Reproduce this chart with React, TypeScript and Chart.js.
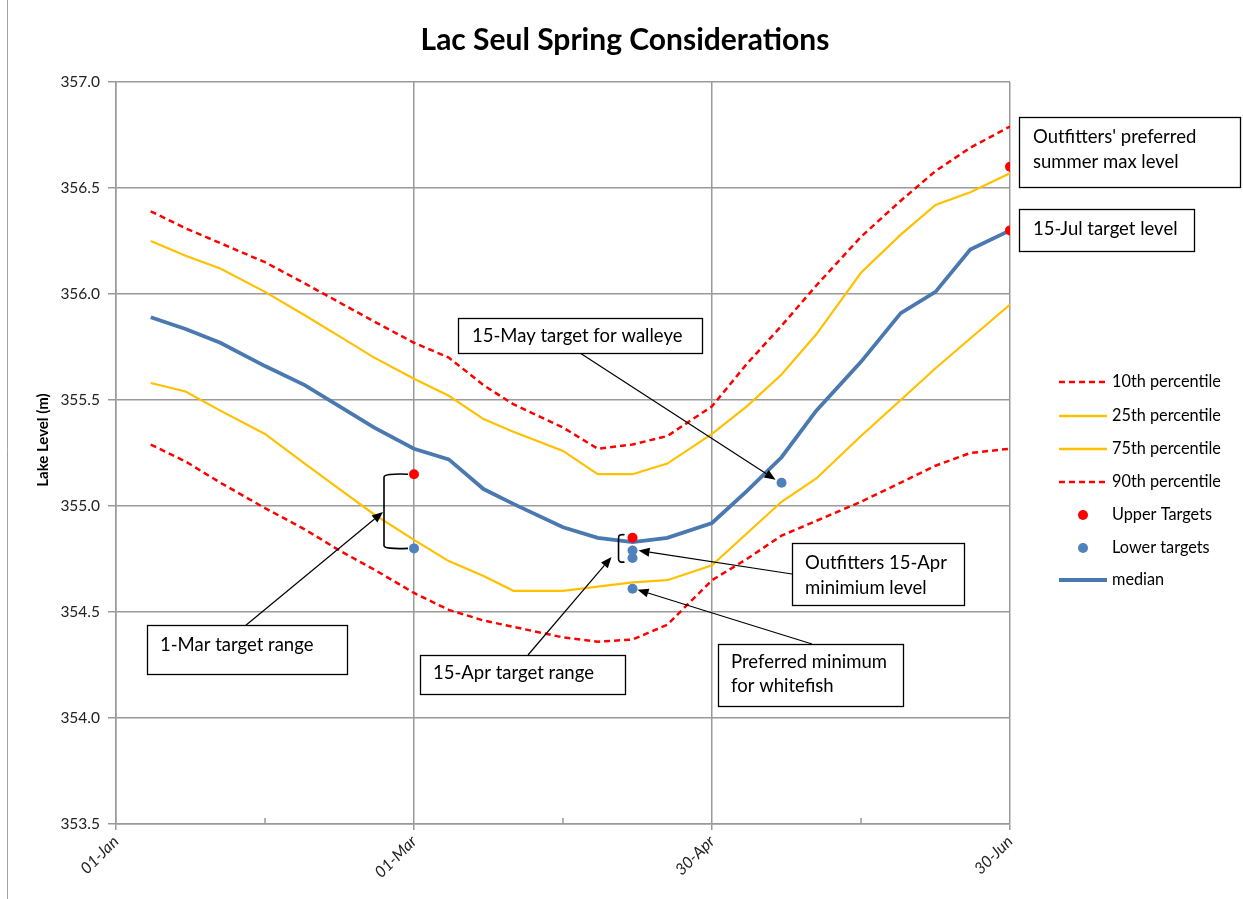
import React, { useEffect, useRef } from 'react';
import { Chart, registerables } from 'chart.js';

Chart.register(...registerables);

// Day of year (01-Jan = 0)
const days = [7, 14, 21, 30, 38, 45, 52, 60, 67, 74, 80, 90, 97, 104, 111, 120, 127, 134, 141, 150, 158, 165, 172, 180];

const p10 = [355.29, 355.21, 355.11, 354.99, 354.89, 354.79, 354.70, 354.59, 354.51, 354.46, 354.43, 354.38, 354.36, 354.37, 354.44, 354.65, 354.75, 354.86, 354.93, 355.02, 355.11, 355.19, 355.25, 355.27];
const p25 = [355.58, 355.54, 355.45, 355.34, 355.20, 355.08, 354.96, 354.84, 354.74, 354.67, 354.60, 354.60, 354.62, 354.64, 354.65, 354.72, 354.87, 355.02, 355.13, 355.33, 355.50, 355.65, 355.79, 355.95];
const p75 = [356.25, 356.18, 356.12, 356.01, 355.90, 355.80, 355.70, 355.60, 355.52, 355.41, 355.35, 355.26, 355.15, 355.15, 355.20, 355.34, 355.47, 355.62, 355.81, 356.10, 356.28, 356.42, 356.48, 356.57];
const p90 = [356.39, 356.31, 356.24, 356.15, 356.05, 355.96, 355.87, 355.77, 355.70, 355.57, 355.48, 355.37, 355.27, 355.29, 355.33, 355.47, 355.67, 355.85, 356.04, 356.27, 356.44, 356.58, 356.69, 356.79];
const median = [355.89, 355.835, 355.77, 355.66, 355.57, 355.47, 355.37, 355.27, 355.22, 355.08, 355.01, 354.90, 354.85, 354.83, 354.85, 354.92, 355.07, 355.23, 355.45, 355.68, 355.91, 356.01, 356.21, 356.30];

const upperTargetDays = [60, 104, 180, 180];
const upperTargetValues = [355.15, 354.85, 356.60, 356.30];
const lowerTargetDays = [60, 104, 104, 104, 134];
const lowerTargetValues = [354.80, 354.79, 354.755, 354.61, 355.11];

const xTickDays = [0, 60, 120, 180];
const xTickLabels = ['01-Jan', '01-Mar', '30-Apr', '30-Jun'];

const legendLabels = ['10th percentile', '25th percentile', '75th percentile', '90th percentile', 'Upper Targets', 'Lower targets', 'median'];

const title = 'Lac Seul Spring Considerations';
const yTitle = 'Lake Level (m)';

const RED = '#FF0000';
const GOLD = '#FFC000';
const BLUE = '#4A78B0';
const DOT_BLUE = '#4F81BD';
const GRID = '#9a9a9a';
const FONT = 'Lato, "Open Sans", sans-serif';

const pts = (xs: number[], ys: number[]) => xs.map((x, i) => ({ x, y: ys[i] }));

function arrow(ctx: CanvasRenderingContext2D, x1: number, y1: number, x2: number, y2: number) {
  const ang = Math.atan2(y2 - y1, x2 - x1);
  const L = 11, W = 4.5;
  const bx = x2 - L * Math.cos(ang), by = y2 - L * Math.sin(ang);
  ctx.save();
  ctx.strokeStyle = '#000';
  ctx.fillStyle = '#000';
  ctx.lineWidth = 1.2;
  ctx.beginPath();
  ctx.moveTo(x1, y1);
  ctx.lineTo(bx, by);
  ctx.stroke();
  ctx.beginPath();
  ctx.moveTo(x2, y2);
  ctx.lineTo(bx + W * Math.sin(ang), by - W * Math.cos(ang));
  ctx.lineTo(bx - W * Math.sin(ang), by + W * Math.cos(ang));
  ctx.closePath();
  ctx.fill();
  ctx.restore();
}

function box(ctx: CanvasRenderingContext2D, x1: number, y1: number, x2: number, y2: number, lines: string[], tx: number, ty: number[]) {
  ctx.save();
  ctx.fillStyle = '#fff';
  ctx.fillRect(x1, y1, x2 - x1, y2 - y1);
  ctx.strokeStyle = '#000';
  ctx.lineWidth = 1.3;
  ctx.strokeRect(x1 + 0.5, y1 + 0.5, x2 - x1, y2 - y1);
  ctx.fillStyle = '#000';
  ctx.font = `18.5px ${FONT}`;
  ctx.textAlign = 'left';
  ctx.textBaseline = 'middle';
  lines.forEach((l, i) => ctx.fillText(l, tx, ty[i]));
  ctx.restore();
}

function bracket(ctx: CanvasRenderingContext2D, x: number, top: number, bottom: number, arm: number) {
  ctx.save();
  ctx.strokeStyle = '#000';
  ctx.lineWidth = 1.6;
  ctx.beginPath();
  ctx.moveTo(x + arm, top);
  ctx.quadraticCurveTo(x, top - 1, x, top + 3);
  ctx.lineTo(x, bottom - 3);
  ctx.quadraticCurveTo(x, bottom + 1, x + arm, bottom);
  ctx.stroke();
  ctx.restore();
}

const decorPlugin = {
  id: 'decor',
  afterDraw(chart: any) {
    const ctx: CanvasRenderingContext2D = chart.ctx;
    const xs = chart.scales.x, ys = chart.scales.y;
    const area = chart.chartArea;
    const px = (d: number) => xs.getPixelForValue(d);
    const py = (v: number) => ys.getPixelForValue(v);

    // frame
    ctx.save();
    ctx.strokeStyle = '#a0a0a0';
    ctx.lineWidth = 1;
    ctx.beginPath();
    ctx.moveTo(7.5, 0);
    ctx.lineTo(7.5, 899);
    ctx.stroke();
    ctx.restore();

    // title
    ctx.save();
    ctx.fillStyle = '#000';
    ctx.font = `bold 30px ${FONT}`;
    ctx.textAlign = 'center';
    ctx.textBaseline = 'middle';
    ctx.fillText(title, 625, 40);
    ctx.restore();

    // y title
    ctx.save();
    ctx.translate(43, 440);
    ctx.rotate(-Math.PI / 2);
    ctx.fillStyle = '#000';
    ctx.font = `bold 15px ${FONT}`;
    ctx.textAlign = 'center';
    ctx.textBaseline = 'middle';
    ctx.fillText(yTitle, 0, 0);
    ctx.restore();

    // minor ticks on x axis (inside)
    ctx.save();
    ctx.strokeStyle = GRID;
    ctx.lineWidth = 1.5;
    [30, 90, 150].forEach((d) => {
      ctx.beginPath();
      ctx.moveTo(px(d), area.bottom);
      ctx.lineTo(px(d), area.bottom - 6);
      ctx.stroke();
    });
    ctx.restore();

    // brackets
    bracket(ctx, px(60) - 30, py(upperTargetValues[0]), py(lowerTargetValues[0]), 24);
    bracket(ctx, px(104) - 14, py(upperTargetValues[1]) - 3, py(lowerTargetValues[2]) + 4, 6);

    // arrows
    arrow(ctx, 245, 626, px(60) - 31, 512);
    arrow(ctx, 528, 655, px(104) - 21, 557);
    arrow(ctx, 580, 353, px(lowerTargetDays[4]) - 6, py(lowerTargetValues[4]) - 3);
    arrow(ctx, 792, 574, px(104) + 6, py(lowerTargetValues[1]));
    arrow(ctx, 812, 644, px(104) + 5, py(lowerTargetValues[3]) + 1);

    // boxes
    box(ctx, 458, 318, 702, 353, ['15-May target for walleye'], 472, [336]);
    box(ctx, 147, 625, 347, 674, ['1-Mar target range'], 160, [645]);
    box(ctx, 420, 655, 625, 694, ['15-Apr target range'], 433, [673]);
    box(ctx, 792, 543, 964, 605, ['Outfitters 15-Apr', 'minimium level'], 805, [563, 588]);
    box(ctx, 718, 644, 903, 706, ['Preferred minimum', 'for whitefish'], 731, [662, 686]);
    box(ctx, 1019, 117, 1240, 187, ["Outfitters' preferred", 'summer max level'], 1033, [137, 162]);
    box(ctx, 1019, 209, 1194, 251, ['15-Jul target level'], 1033, [229]);

    // legend
    const rows = [382, 416, 449, 482, 515, 548, 580];
    const styles = [
      { t: 'line', c: RED, w: 2.5, dash: [6, 4] },
      { t: 'line', c: GOLD, w: 2.5, dash: [] },
      { t: 'line', c: GOLD, w: 2.5, dash: [] },
      { t: 'line', c: RED, w: 2.5, dash: [6, 4] },
      { t: 'dot', c: RED },
      { t: 'dot', c: DOT_BLUE },
      { t: 'line', c: BLUE, w: 4, dash: [] },
    ];
    ctx.save();
    styles.forEach((s: any, i) => {
      const y = rows[i];
      if (s.t === 'line') {
        ctx.strokeStyle = s.c;
        ctx.lineWidth = s.w;
        ctx.setLineDash(s.dash);
        ctx.beginPath();
        ctx.moveTo(1059, y);
        ctx.lineTo(1107, y);
        ctx.stroke();
        ctx.setLineDash([]);
      } else {
        ctx.fillStyle = s.c;
        ctx.beginPath();
        ctx.arc(1083, y, 5, 0, Math.PI * 2);
        ctx.fill();
      }
      ctx.fillStyle = '#000';
      ctx.font = `16.3px ${FONT}`;
      ctx.textAlign = 'left';
      ctx.textBaseline = 'middle';
      ctx.fillText(legendLabels[i], 1112, y);
    });
    ctx.restore();
  },
};

export default function App() {
  const ref = useRef<HTMLCanvasElement | null>(null);
  useEffect(() => {
    document.body.style.margin = '0';
    const canvas = ref.current!;
    const chart = new Chart(canvas, {
      type: 'line',
      data: {
        datasets: [
          { label: legendLabels[0], data: pts(days, p10), borderColor: RED, borderWidth: 2.5, borderDash: [6, 4], pointRadius: 0, tension: 0, order: 3 },
          { label: legendLabels[1], data: pts(days, p25), borderColor: GOLD, borderWidth: 2.2, pointRadius: 0, tension: 0, order: 3 },
          { label: legendLabels[2], data: pts(days, p75), borderColor: GOLD, borderWidth: 2.2, pointRadius: 0, tension: 0, order: 3 },
          { label: legendLabels[3], data: pts(days, p90), borderColor: RED, borderWidth: 2.5, borderDash: [6, 4], pointRadius: 0, tension: 0, order: 3 },
          { label: legendLabels[4], data: pts(upperTargetDays, upperTargetValues), showLine: false, pointRadius: 5, pointBackgroundColor: RED, pointBorderWidth: 0, borderColor: RED, order: 0 },
          { label: legendLabels[5], data: pts(lowerTargetDays, lowerTargetValues), showLine: false, pointRadius: 5, pointBackgroundColor: DOT_BLUE, pointBorderWidth: 0, borderColor: DOT_BLUE, order: 1 },
          { label: legendLabels[6], data: pts(days, median), borderColor: BLUE, borderWidth: 3.8, pointRadius: 0, tension: 0, order: 2 },
        ],
      },
      options: {
        responsive: false,
        animation: false,
        layout: { padding: { left: 0, right: 233, top: 82, bottom: 0 } },
        plugins: { legend: { display: false }, tooltip: { enabled: false }, title: { display: false } },
        scales: {
          x: {
            type: 'linear',
            min: 0,
            max: 180,
            afterBuildTicks: (scale: any) => {
              scale.ticks = xTickDays.map((v) => ({ value: v }));
            },
            afterFit: (scale: any) => {
              scale.height = 75;
            },
            ticks: {
              autoSkip: false,
              maxRotation: 45,
              minRotation: 45,
              padding: 2,
              color: '#222',
              font: { family: FONT, size: 16, style: 'italic' },
              callback: (v: any) => {
                const i = xTickDays.indexOf(Number(v));
                return i >= 0 ? xTickLabels[i] : '';
              },
            },
            grid: { color: GRID, lineWidth: 1.5, tickLength: 6, tickColor: GRID, drawOnChartArea: true },
            border: { color: GRID, width: 1.5 },
          },
          y: {
            type: 'linear',
            min: 353.5,
            max: 357.0,
            afterFit: (scale: any) => {
              scale.width = 116;
            },
            ticks: {
              stepSize: 0.5,
              padding: 8,
              color: '#222',
              font: { family: FONT, size: 15.5 },
              callback: (v: any) => Number(v).toFixed(1),
            },
            grid: { color: GRID, lineWidth: 1.5, tickLength: 8, tickColor: GRID },
            border: { color: GRID, width: 1.5 },
          },
        },
      },
      plugins: [decorPlugin],
    });
    return () => chart.destroy();
  }, []);
  return (
    <div style={{ width: 1243, height: 899, background: '#fff' }}>
      <canvas ref={ref} width={1243} height={899} style={{ display: 'block' }} />
    </div>
  );
}
